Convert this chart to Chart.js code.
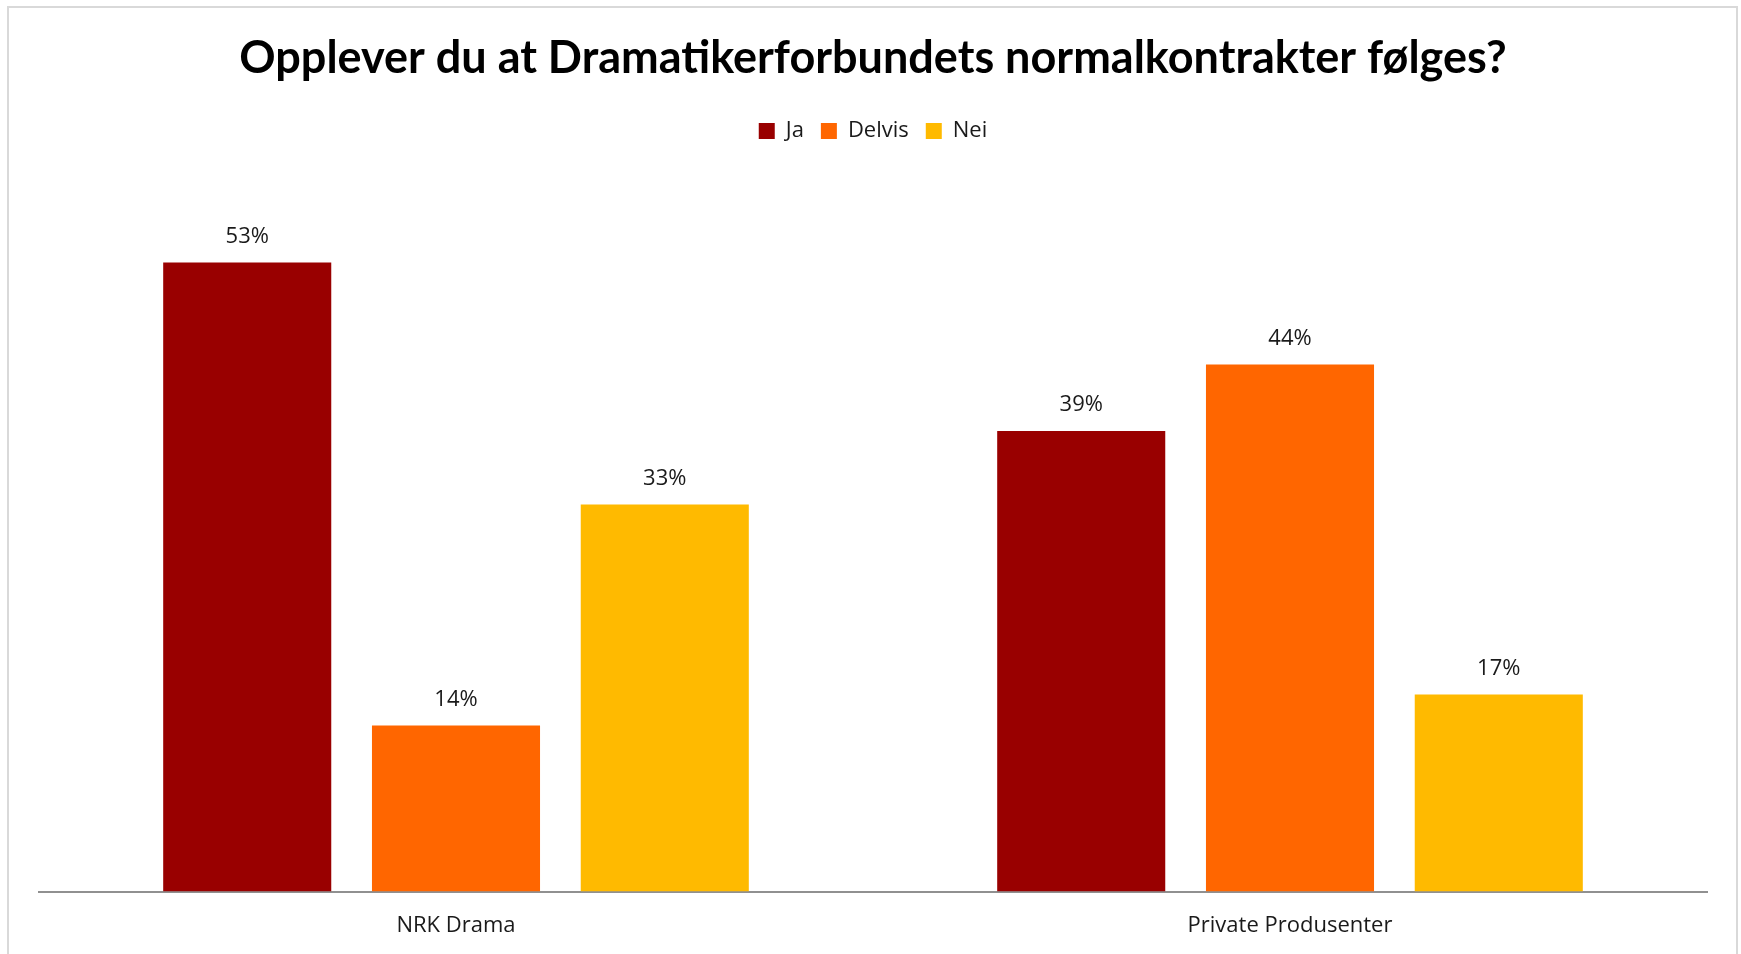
<!DOCTYPE html>
<html>
<head>
<meta charset="utf-8">
<script src="https://cdn.jsdelivr.net/npm/chart.js@4"></script>
<style>
  html, body { margin: 0; padding: 0; background: #fff; overflow: hidden; }
  #wrap { position: relative; width: 1741px; height: 954px; overflow: hidden; }
  #ramme { position: absolute; left: 7px; top: 6px; width: 1727px; height: 960px; border: 2px solid #d9d9d9; pointer-events: none; }
</style>
</head>
<body>
<div id="wrap">
  <canvas id="myChart" width="1741" height="954"></canvas>
  <div id="ramme"></div>
</div>
<script>
const kategorier = ['NRK Drama', 'Private Produsenter'];
const ja = [53, 38.8];
const delvis = [14, 44.4];
const nei = [32.6, 16.6];

// prosent-etiketter over søylene
const etiketter = {
  id: 'etiketter',
  afterDatasetsDraw(chart) {
    const ctx = chart.ctx;
    ctx.save();
    ctx.font = '22px "Open Sans"';
    ctx.fillStyle = '#1a1a1a';
    ctx.textAlign = 'center';
    ctx.textBaseline = 'middle';
    chart.data.datasets.forEach((ds, i) => {
      chart.getDatasetMeta(i).data.forEach((bar, j) => {
        ctx.fillText(Math.round(ds.data[j]) + '%', bar.x, bar.y - 26);
      });
    });
    ctx.restore();
  }
};

function plotarGrafico() {
  const ctx = document.getElementById('myChart');
  new Chart(ctx, {
    type: 'bar',
    data: {
      labels: kategorier,
      datasets: [{
        label: 'Ja',
        data: ja,
        backgroundColor: '#990000',
        borderWidth: 0,
      },
      {
        label: 'Delvis',
        data: delvis,
        backgroundColor: '#FF6600',
        borderWidth: 0,
      },
      {
        label: 'Nei',
        data: nei,
        backgroundColor: '#FFBA00',
        borderWidth: 0,
      }]
    },
    plugins: [etiketter],
    options: {
      responsive: false,
      animation: false,
      categoryPercentage: 0.751,
      barPercentage: 0.805,
      layout: {
        padding: { top: 0, left: 39, right: 34, bottom: -6 }
      },
      scales: {
        x: {
          grid: { display: false, drawTicks: false },
          border: { display: true, color: '#909090', width: 2 },
          ticks: {
            padding: 21,
            color: '#1a1a1a',
            font: { family: 'Open Sans', size: 22 }
          }
        },
        y: {
          display: false,
          beginAtZero: true,
          min: 0,
          max: 62.3
        }
      },
      plugins: {
        legend: {
          display: true,
          position: 'top',
          labels: {
            boxWidth: 16,
            boxHeight: 16,
            padding: 17,
            color: '#1a1a1a',
            font: { family: 'Open Sans', size: 22 }
          }
        },
        title: {
          display: true,
          text: 'Opplever du at Dramatikerforbundets normalkontrakter følges?',
          color: '#000',
          padding: { top: 31, bottom: 18 },
          font: { family: 'Lato', size: 45, weight: 'bold' }
        },
        tooltip: { enabled: false }
      }
    }
  });
}
plotarGrafico();
</script>
</body>
</html>
